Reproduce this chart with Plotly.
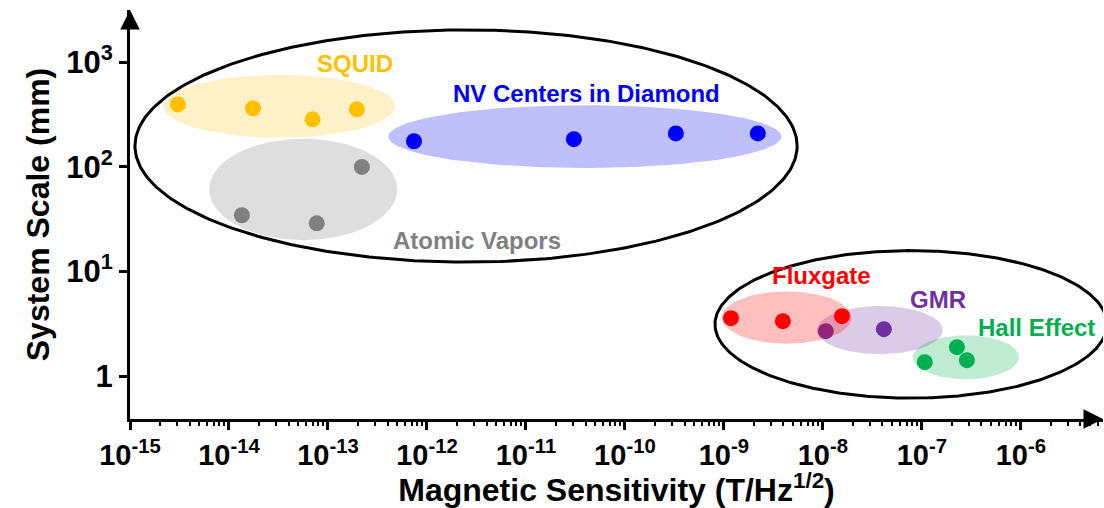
import numpy as np
import plotly.graph_objects as go

# Magnetometer technologies: sensitivity (T/Hz^1/2) vs. system scale (mm)
squid_x = [3.05e-15, 1.75e-14, 7.0e-14, 1.96e-13]
squid_y = [396, 363, 285, 355]

vapor_x = [1.35e-14, 7.7e-14, 2.2e-13]
vapor_y = [34.5, 28.9, 100]

nv_x = [7.4e-13, 3.05e-11, 3.27e-10, 2.2e-9]
nv_y = [176, 184, 209, 209]

fluxgate_x = [1.18e-9, 3.94e-9, 1.56e-8]
fluxgate_y = [3.58, 3.35, 3.74]

gmr_x = [1.07e-8, 4.13e-8]
gmr_y = [2.69, 2.81]

hall_x = [1.07e-7, 2.26e-7, 2.85e-7]
hall_y = [1.36, 1.89, 1.42]

# Group envelopes as (log10 x range, log10 y range)
squid_env = [(-14.66, -12.32), (2.28, 2.88)]
vapor_env = [(-14.20, -12.30), (1.30, 2.27)]
nv_env = [(-12.39, -8.42), (1.99, 2.59)]
fluxgate_env = [(-9.02, -7.71), (0.31, 0.81)]
gmr_env = [(-8.06, -6.79), (0.21, 0.67)]
hall_env = [(-7.09, -6.02), (-0.03, 0.39)]
quantum_env = [(-14.95, -8.26), (1.09, 3.31)]
classical_env = [(-9.09, -5.13), (-0.21, 1.20)]

x_tick_exp = [-15, -14, -13, -12, -11, -10, -9, -8, -7, -6]
y_tick_vals = [1, 10, 100, 1000]
y_tick_text = ["1", "10<sup>1</sup>", "10<sup>2</sup>", "10<sup>3</sup>"]

FONT = "Liberation Sans, Arial, sans-serif"


def ellipse(env, n=181):
    """Outline of an ellipse spanning env in log10 space, returned in data units."""
    (x0, x1), (y0, y1) = env
    t = np.linspace(0, 2 * np.pi, n)
    cx, cy = (x0 + x1) / 2, (y0 + y1) / 2
    rx, ry = (x1 - x0) / 2, (y1 - y0) / 2
    return 10 ** (cx + rx * np.cos(t)), 10 ** (cy + ry * np.sin(t))


groups = [
    ("SQUID", squid_x, squid_y, "#FFC000", "rgba(255,192,0,0.22)", squid_env, (-12.73, 2.99)),
    ("Atomic Vapors", vapor_x, vapor_y, "#808080", "rgba(128,128,128,0.26)", vapor_env, (-11.49, 1.30)),
    ("NV Centers in Diamond", nv_x, nv_y, "#0000FF", "rgba(0,0,240,0.25)", nv_env, (-10.39, 2.70)),
    ("GMR", gmr_x, gmr_y, "#7030A0", "rgba(112,48,160,0.25)", gmr_env, (-6.84, 0.735)),
    ("Hall Effect", hall_x, hall_y, "#00B050", "rgba(0,176,80,0.25)", hall_env, (-5.84, 0.468)),
    ("Fluxgate", fluxgate_x, fluxgate_y, "#FF0000", "rgba(255,0,0,0.25)", fluxgate_env, (-8.01, 0.965)),
]

fig = go.Figure()
annotations = []

for name, xs, ys, color, fill, env, lab in groups:
    ex, ey = ellipse(env)
    fig.add_trace(go.Scatter(x=ex, y=ey, mode="lines", fill="toself", fillcolor=fill,
                             line=dict(width=0), hoverinfo="skip", showlegend=False))
    fig.add_trace(go.Scatter(x=xs, y=ys, mode="markers", name=name,
                             marker=dict(size=16, color=color, line=dict(width=0)),
                             showlegend=False))
    annotations.append(dict(x=lab[0], y=lab[1], xref="x", yref="y", text="<b>%s</b>" % name,
                            showarrow=False, font=dict(family=FONT, size=24, color=color)))

for env in (quantum_env, classical_env):
    ex, ey = ellipse(env, 361)
    fig.add_trace(go.Scatter(x=ex, y=ey, mode="lines", line=dict(color="black", width=3),
                             hoverinfo="skip", showlegend=False))

# Arrow heads at the ends of the axes
annotations.append(dict(x=1, y=0, xref="paper", yref="paper", ax=-14, ay=0, axref="pixel", ayref="pixel",
                        text="", showarrow=True, arrowhead=2, arrowsize=1.3, arrowwidth=3,
                        arrowcolor="black"))
annotations.append(dict(x=0, y=1, xref="paper", yref="paper", ax=0, ay=14, axref="pixel", ayref="pixel",
                        text="", showarrow=True, arrowhead=2, arrowsize=1.3, arrowwidth=3,
                        arrowcolor="black"))

fig.update_layout(
    width=1104, height=508,
    margin=dict(l=130, r=1, t=10, b=89),
    plot_bgcolor="white", paper_bgcolor="white",
    font=dict(family=FONT, color="black"),
    annotations=annotations,
    xaxis=dict(
        type="log", range=[-15, -5.17],
        showgrid=False, zeroline=False,
        showline=True, linecolor="black", linewidth=3,
        ticks="outside", ticklen=8, tickwidth=3, tickcolor="black",
        tickvals=[10.0 ** e for e in x_tick_exp],
        ticktext=["<b>10<sup>%d</sup></b>" % e for e in x_tick_exp],
        tickfont=dict(family=FONT, size=29, color="black"),
        minor=dict(ticks="outside", ticklen=4, tickwidth=2, tickcolor="black", dtick="D1", showgrid=False),
        title=dict(text="<b>Magnetic Sensitivity (T/Hz<sup>1/2</sup>)</b>",
                   font=dict(family=FONT, size=32, color="black"), standoff=7),
    ),
    yaxis=dict(
        type="log", range=[-0.41, 3.5],
        showgrid=False, zeroline=False,
        showline=True, linecolor="black", linewidth=3,
        ticks="outside", ticklen=8, tickwidth=3, tickcolor="black",
        tickvals=y_tick_vals, ticktext=["<b>%s</b>" % t for t in y_tick_text],
        tickfont=dict(family=FONT, size=31, color="black"),
        title=dict(text="<b>System Scale (mm)</b>",
                   font=dict(family=FONT, size=32, color="black"), standoff=8),
    ),
)

fig.write_html("out.html")
